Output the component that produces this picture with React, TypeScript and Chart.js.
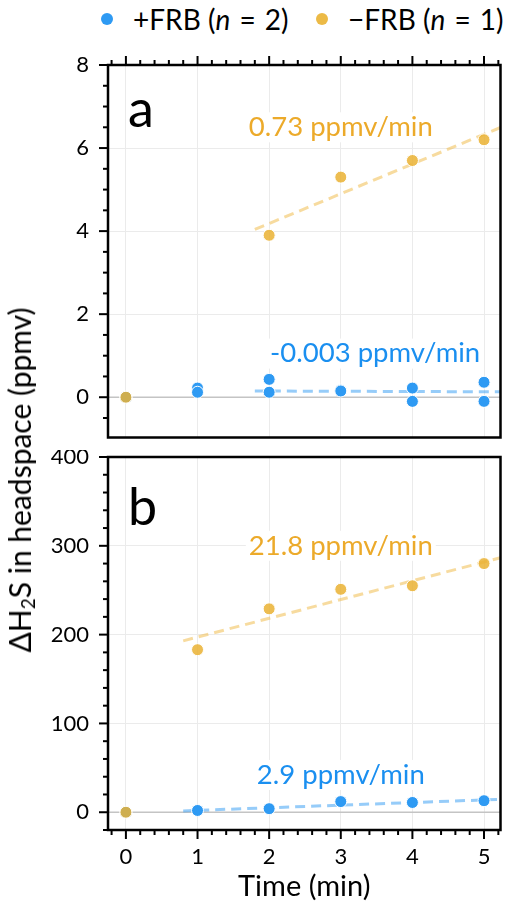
import React, { useEffect, useRef } from 'react';
import { Chart, registerables } from 'chart.js';
Chart.register(...registerables);

// ---------- data ----------
const timeMin = [0, 1, 2, 3, 4, 5];
const xTickValues = [0, 1, 2, 3, 4, 5];

// panel a
const aPlusRep1 = [0, 0.22, 0.43, 0.17, 0.22, 0.36];
const aPlusRep2 = [0, 0.12, 0.12, 0.15, -0.1, -0.1];
const aMinus = [0, null, 3.9, 5.3, 5.7, 6.2];
const aFitX = [1.8, 5.25];
const aPlusFit = [0.15, 0.13];
const aMinusFit = [4.04, 6.51];
const aYTicks = [0, 2, 4, 6, 8];
const aPlusRate = '-0.003 ppmv/min';
const aMinusRate = '0.73 ppmv/min';

// panel b
const bPlus = [0, 2, 4, 12, 11, 13];
const bMinus = [0, 183, 229, 251, 255, 280];
const bFitX = [0.8, 5.25];
const bPlusFit = [1.5, 14.6];
const bMinusFit = [193, 287];
const bYTicks = [0, 100, 200, 300, 400];
const bPlusRate = '2.9 ppmv/min';
const bMinusRate = '21.8 ppmv/min';

// ---------- style ----------
const BLUE = '#2E9AF3';
const ORANGE = 'rgba(234,178,50,0.85)';
const BLUE_FIT = 'rgba(46,154,243,0.5)';
const ORANGE_FIT = 'rgba(240,190,80,0.55)';
const BLUE_TEXT = '#1A8FF0';
const ORANGE_TEXT = '#ECAA2A';
const FONT = 'Lato';

const pts = (xs: number[], ys: (number | null)[]) =>
  xs.map((x, i) => ({ x, y: ys[i] })).filter((p) => p.y !== null);

const pointDs = (data: any[], color: string) => ({
  type: 'scatter' as const,
  data,
  backgroundColor: color,
  borderColor: '#ffffff',
  borderWidth: 1,
  pointRadius: 6,
  showLine: false,
});

const fitDs = (data: any[], color: string) => ({
  type: 'scatter' as const,
  data,
  borderColor: color,
  backgroundColor: color,
  borderWidth: 3,
  borderDash: [10, 6],
  pointRadius: 0,
  showLine: true,
});

const framePlugin = {
  id: 'frame',
  beforeDatasetsDraw(chart: any) {
    const { ctx, chartArea: ca, scales } = chart;
    const y0 = scales.y.getPixelForValue(0);
    ctx.save();
    ctx.strokeStyle = '#c4c4c4';
    ctx.lineWidth = 1.5;
    ctx.beginPath();
    ctx.moveTo(ca.left, y0);
    ctx.lineTo(ca.right, y0);
    ctx.stroke();
    ctx.restore();
  },
  afterDatasetsDraw(chart: any, _a: any, opts: any) {
    const { ctx, chartArea: ca, scales } = chart;
    const xs = scales.x;
    const ys = scales.y;
    ctx.save();
    ctx.strokeStyle = '#000';
    ctx.lineCap = 'butt';
    ctx.lineWidth = 2;
    const eps = 1e-6;
    const drawX = (edge: 'top' | 'bottom') => {
      const step = opts.xMinor;
      for (let i = Math.ceil(xs.min / step); i * step <= xs.max + eps; i++) {
        const v = i * step;
        const isMajor = Math.abs(v - Math.round(v / opts.xMajor) * opts.xMajor) < eps;
        const len = isMajor ? 9 : 5;
        const px = xs.getPixelForValue(v);
        ctx.beginPath();
        if (edge === 'top') {
          ctx.moveTo(px, ca.top);
          ctx.lineTo(px, ca.top - len);
        } else {
          ctx.moveTo(px, ca.bottom);
          ctx.lineTo(px, ca.bottom + len);
        }
        ctx.stroke();
      }
    };
    if (opts.topTicks) drawX('top');
    if (opts.bottomTicks) drawX('bottom');
    const ystep = opts.yMinor;
    for (let i = Math.ceil(ys.min / ystep); i * ystep <= ys.max + eps * opts.yMajor; i++) {
      const v = i * ystep;
      const isMajor = Math.abs(v - Math.round(v / opts.yMajor) * opts.yMajor) < eps * opts.yMajor;
      const len = isMajor ? 9 : 5;
      const py = ys.getPixelForValue(v);
      ctx.beginPath();
      ctx.moveTo(ca.left, py);
      ctx.lineTo(ca.left - len, py);
      ctx.stroke();
    }
    ctx.lineWidth = 2.5;
    ctx.strokeRect(ca.left, ca.top, ca.right - ca.left, ca.bottom - ca.top);

    ctx.textAlign = 'center';
    ctx.textBaseline = 'middle';
    ctx.font = `27.5px ${FONT}`;
    for (const an of opts.labels) {
      const px = xs.getPixelForValue(an.x);
      const py = ys.getPixelForValue(an.y);
      const w = ctx.measureText(an.text).width;
      ctx.fillStyle = '#fff';
      ctx.fillRect(px - w / 2 - 3, py - 15, w + 6, 30);
      ctx.fillStyle = an.color;
      ctx.fillText(an.text, px, py);
    }
    ctx.textAlign = 'left';
    ctx.textBaseline = 'alphabetic';
    ctx.font = `52px ${FONT}`;
    ctx.fillStyle = '#000';
    ctx.fillText(opts.letter, ca.left + 20, ca.top + opts.letterDy);
    ctx.restore();
  },
};

function makeOptions(cfg: any) {
  return {
    responsive: false,
    animation: false as const,
    devicePixelRatio: 1,
    layout: { padding: cfg.padding },
    plugins: {
      legend: { display: false },
      tooltip: { enabled: false },
      frame: cfg.frame,
    },
    scales: {
      x: {
        type: 'linear' as const,
        min: -0.25,
        max: 5.23,
        afterBuildTicks: (s: any) => {
          s.ticks = xTickValues.map((v) => ({ value: v }));
        },
        afterFit: (s: any) => {
          s.height = cfg.xHeight;
          s.paddingLeft = 0;
          s.paddingRight = 0;
        },
        grid: { color: '#ebebeb', lineWidth: 1, drawTicks: false },
        border: { display: false },
        ticks: {
          display: cfg.xLabels,
          padding: 14,
          color: '#000',
          font: { family: FONT, size: 22 },
        },
        title: cfg.xLabels
          ? {
              display: true,
              text: 'Time (min)',
              color: '#000',
              font: { family: FONT, size: 29 },
              padding: { top: 0, bottom: 1 },
            }
          : { display: false },
      },
      y: {
        type: 'linear' as const,
        min: cfg.yMin,
        max: cfg.yMax,
        afterBuildTicks: (s: any) => {
          s.ticks = cfg.yTicks.map((v: number) => ({ value: v }));
        },
        afterFit: (s: any) => {
          s.width = 108;
          s.paddingTop = 0;
          s.paddingBottom = 0;
        },
        grid: { color: '#ebebeb', lineWidth: 1, drawTicks: false },
        border: { display: false },
        ticks: {
          padding: 19,
          color: '#000',
          font: { family: FONT, size: 22 },
        },
      },
    },
  };
}

function Panel(props: { top: number; height: number; build: () => any }) {
  const ref = useRef<HTMLCanvasElement>(null);
  useEffect(() => {
    if (!ref.current) return;
    const chart = new Chart(ref.current, props.build());
    return () => chart.destroy();
  }, []);
  return (
    <canvas
      ref={ref}
      width={517}
      height={props.height}
      style={{ position: 'absolute', left: 0, top: props.top, width: 517, height: props.height }}
    />
  );
}

const buildA = () => ({
  type: 'scatter' as const,
  data: {
    datasets: [
      pointDs(pts(timeMin, aMinus), ORANGE),
      pointDs(pts(timeMin, aPlusRep2), BLUE),
      pointDs(pts(timeMin, aPlusRep1), BLUE),
      fitDs(pts(aFitX, aMinusFit), ORANGE_FIT),
      fitDs(pts(aFitX, aPlusFit), BLUE_FIT),
    ],
  },
  options: makeOptions({
    padding: { left: 0, right: 16.5, top: 65, bottom: 12.5 },
    xHeight: 0,
    xLabels: false,
    yMin: -0.97,
    yMax: 8,
    yTicks: aYTicks,
    frame: {
      topTicks: true,
      bottomTicks: false,
      xMinor: 0.2,
      xMajor: 1,
      yMinor: 0.5,
      yMajor: 2,
      letter: 'a',
      letterDy: 62,
      labels: [
        { x: 3, y: 6.5, text: aMinusRate, color: ORANGE_TEXT },
        { x: 3.48, y: 1.05, text: aPlusRate, color: BLUE_TEXT },
      ],
    },
  }),
  plugins: [framePlugin],
});

const buildB = () => ({
  type: 'scatter' as const,
  data: {
    datasets: [
      pointDs(pts(timeMin, bMinus), ORANGE),
      pointDs(pts(timeMin, bPlus), BLUE),
      fitDs(pts(bFitX, bMinusFit), ORANGE_FIT),
      fitDs(pts(bFitX, bPlusFit), BLUE_FIT),
    ],
  },
  options: makeOptions({
    padding: { left: 0, right: 16.5, top: 7, bottom: 0 },
    xHeight: 75,
    xLabels: true,
    yMin: -20,
    yMax: 400,
    yTicks: bYTicks,
    frame: {
      topTicks: false,
      bottomTicks: true,
      xMinor: 0.2,
      xMajor: 1,
      yMinor: 20,
      yMajor: 100,
      letter: 'b',
      letterDy: 68,
      labels: [
        { x: 3, y: 300, text: bMinusRate, color: ORANGE_TEXT },
        { x: 3, y: 42, text: bPlusRate, color: BLUE_TEXT },
      ],
    },
  }),
  plugins: [framePlugin],
});

function LegendItem(props: { left: number; color: string; sign: string; n: number }) {
  return (
    <div
      style={{
        position: 'absolute',
        left: props.left,
        top: 3,
        height: 32,
        display: 'flex',
        alignItems: 'center',
        fontSize: 28,
        color: '#000',
        whiteSpace: 'nowrap',
      }}
    >
      <span
        style={{
          display: 'inline-block',
          width: 12,
          height: 12,
          borderRadius: 6,
          background: props.color,
          marginRight: 20,
        }}
      />
      <span>
        {props.sign}FRB (<i>n</i>
        <span style={{ margin: '0 2px' }}> = </span>
        {props.n})
      </span>
    </div>
  );
}

export default function App() {
  useEffect(() => {
    document.body.style.margin = '0';
  }, []);
  return (
    <div style={{ position: 'relative', width: 517, height: 905, fontFamily: FONT, overflow: 'hidden' }}>
      <LegendItem left={101} color={BLUE} sign="+" n={2} />
      <LegendItem left={316} color="rgba(234,178,50,0.9)" sign="−" n={1} />
      <Panel top={0} height={450} build={buildA} />
      <Panel top={450} height={455} build={buildB} />
      <div
        style={{
          position: 'absolute',
          left: 20,
          top: 480,
          transform: 'translate(-50%, -50%) rotate(-90deg)',
          fontSize: 30,
          whiteSpace: 'nowrap',
          color: '#000',
        }}
      >
        ΔH<sub style={{ fontSize: 19, verticalAlign: -4 }}>2</sub>S in headspace (ppmv)
      </div>
    </div>
  );
}
